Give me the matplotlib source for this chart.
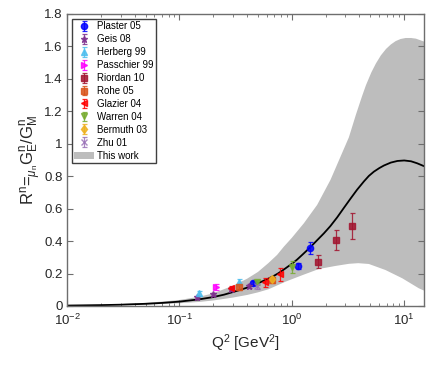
import matplotlib
matplotlib.use("Agg")
import matplotlib.pyplot as plt
from matplotlib.patches import Patch

plt.rcParams['font.family'] = ['Liberation Sans', 'DejaVu Sans']
plt.rcParams['mathtext.fontset'] = 'custom'
plt.rcParams['mathtext.rm'] = 'Liberation Sans'
plt.rcParams['mathtext.it'] = 'Liberation Sans:italic'

# ---- theory curve ("This work") ----
curve_x = [0.01, 0.02, 0.03, 0.05, 0.07, 0.1, 0.15, 0.2, 0.25, 0.3, 0.35, 0.42, 0.5, 0.58,
           0.67, 0.76, 0.85, 1.0, 1.11, 1.25, 1.45, 1.65, 1.93, 2.2, 2.53, 2.9, 3.33, 3.8,
           4.38, 4.85, 5.37, 6.0, 6.6, 7.6, 8.7, 10.0, 11.5, 13.0, 15.0]
curve_y = [0.0027, 0.0054, 0.008, 0.0135, 0.019, 0.027, 0.041, 0.055, 0.070, 0.086, 0.100,
           0.118, 0.140, 0.160, 0.180, 0.202, 0.225, 0.260, 0.285, 0.318, 0.360, 0.400,
           0.448, 0.492, 0.546, 0.604, 0.662, 0.716, 0.768, 0.802, 0.828, 0.850, 0.866,
           0.884, 0.894, 0.897, 0.892, 0.880, 0.862]

# ---- uncertainty band ----
band_hi_x = [0.01, 0.02, 0.03, 0.05, 0.07, 0.1, 0.15, 0.2, 0.3, 0.4, 0.5, 0.62, 0.74, 0.85,
             1.0, 1.28, 1.68, 2.21, 2.71, 3.22, 3.72, 4.2, 4.56, 5.1, 5.6, 6.2, 6.9, 7.6,
             8.4, 9.3, 10.3, 11.5, 12.7, 15.0]
band_hi_y = [0.004, 0.008, 0.012, 0.019, 0.027, 0.037, 0.057, 0.078, 0.125, 0.168, 0.210,
             0.265, 0.315, 0.366, 0.420, 0.510, 0.623, 0.778, 0.920, 1.040, 1.180, 1.290,
             1.360, 1.440, 1.495, 1.545, 1.585, 1.612, 1.633, 1.646, 1.652, 1.652, 1.648,
             1.630]
band_lo_x = [0.01, 0.02, 0.03, 0.05, 0.07, 0.1, 0.15, 0.2, 0.3, 0.4, 0.5, 0.62, 0.88, 1.24,
             1.74, 2.45, 3.22, 3.9, 4.85, 6.8, 9.6, 13.5, 15.0]
band_lo_y = [0.002, 0.004, 0.006, 0.009, 0.012, 0.017, 0.025, 0.034, 0.052, 0.068, 0.084,
             0.103, 0.150, 0.190, 0.228, 0.247, 0.260, 0.264, 0.259, 0.222, 0.171, 0.109,
             0.095]

# ---- data sets ----
plaster_x = [0.45, 1.13, 1.45]
plaster_y = [0.142, 0.247, 0.358]
plaster_e = [0.015, 0.02, 0.035]

geis_x = [0.142, 0.20, 0.29, 0.42]
geis_y = [0.053, 0.072, 0.105, 0.122]
geis_e = [0.008, 0.008, 0.01, 0.012]

herberg_x = [0.15, 0.34]
herberg_y = [0.079, 0.148]
herberg_e = [0.015, 0.02]

passchier_x = [0.21]
passchier_y = [0.116]
passchier_e = [0.02]

riordan_x = [1.72, 2.48, 3.41]
riordan_y = [0.272, 0.407, 0.492]
riordan_e = [0.04, 0.06, 0.08]

rohe_x = [0.34, 0.67]
rohe_y = [0.116, 0.160]
rohe_e = [0.015, 0.02]

glazier_x = [0.29, 0.58, 0.78]
glazier_y = [0.111, 0.145, 0.195]
glazier_e = [0.015, 0.025, 0.04]

warren_x = [0.49, 1.0]
warren_y = [0.146, 0.241]
warren_e = [0.015, 0.035]

bermuth_x = [0.67]
bermuth_y = [0.166]
bermuth_e = [0.015]

zhu_x = [0.49]
zhu_y = [0.122]
zhu_e = [0.015]

series = [
    ("Plaster 05", plaster_x, plaster_y, plaster_e, '#0000ff', 'o', 4.5),
    ("Geis 08", geis_x, geis_y, geis_e, '#7e2f8e', '*', 4.5),
    ("Herberg 99", herberg_x, herberg_y, herberg_e, '#4dbeee', '^', 4.5),
    ("Passchier 99", passchier_x, passchier_y, passchier_e, '#ff00ff', '>', 4.5),
    ("Riordan 10", riordan_x, riordan_y, riordan_e, '#a2142f', 's', 3.8),
    ("Rohe 05", rohe_x, rohe_y, rohe_e, '#d95319', 's', 3.8),
    ("Glazier 04", glazier_x, glazier_y, glazier_e, '#ff0000', '<', 4.5),
    ("Warren 04", warren_x, warren_y, warren_e, '#77ac30', 'v', 4.5),
    ("Bermuth 03", bermuth_x, bermuth_y, bermuth_e, '#edb120', 'd', 4.5),
    ("Zhu 01", zhu_x, zhu_y, zhu_e, '#9a72b8', 'x', 4.0),
]

fig = plt.figure(figsize=(4.36, 3.68), dpi=100)
ax = fig.add_axes([0.1537, 0.1685, 0.8188, 0.7935])

band_color = '#bdbdbd'
# band polygon: upper edge left->right, lower edge right->left
poly_x = band_hi_x + band_lo_x[::-1]
poly_y = band_hi_y + band_lo_y[::-1]
ax.fill(poly_x, poly_y, color=band_color, lw=0, zorder=1)
ax.plot(curve_x, curve_y, color='black', lw=1.3, zorder=2)

handles = []
for name, xs, ys, es, col, mk, ms in series:
    h = ax.errorbar(xs, ys, yerr=es, fmt=mk, color=col, ms=ms, mec=col, mfc=col,
                    elinewidth=0.9, capsize=1.8, capthick=0.9, alpha=0.85, zorder=3,
                    label=name)
    handles.append(h)
handles.append(Patch(facecolor=band_color, edgecolor='none', label='This work'))

ax.set_xscale('log')
ax.set_xlim(0.01, 15)
ax.set_ylim(0, 1.8)
ax.set_yticks([0, 0.2, 0.4, 0.6, 0.8, 1.0, 1.2, 1.4, 1.6, 1.8])
ax.set_yticklabels(['0', '0.2', '0.4', '0.6', '0.8', '1', '1.2', '1.4', '1.6', '1.8'])
ax.set_xticks([0.01, 0.1, 1, 10])

spine_col = '#6e6e6e'
for s in ax.spines.values():
    s.set_color(spine_col)
    s.set_linewidth(1.0)
ax.tick_params(which='both', direction='in', top=True, right=True, colors=spine_col,
               labelcolor='#262626', labelsize=9.5)
ax.tick_params(which='major', length=4)
ax.tick_params(which='minor', length=2)
ax.tick_params(axis='x', which='major', pad=5)
ax.tick_params(axis='y', which='major', pad=3)

ax.set_xlabel(r'Q$^2$ [GeV$^2$]', fontsize=11, color='#262626', labelpad=3)
ax.set_ylabel(r'R$^{\mathregular{n}}$=$_{\mu_\mathregular{n}}$G$^{\mathregular{n}}_{\mathregular{E}}$/G$^{\mathregular{n}}_{\mathregular{M}}$',
              fontsize=12, color='#262626', labelpad=1)

leg = ax.legend(handles=handles, loc='upper left', bbox_to_anchor=(0.014, 0.983),
                borderaxespad=0, fontsize=7, frameon=True, fancybox=False,
                framealpha=1, edgecolor='#404040', handlelength=2.0, handletextpad=0.3,
                labelspacing=0.3, borderpad=0.25)
leg.get_frame().set_linewidth(1.0)

fig.savefig('out.png', dpi=100)
